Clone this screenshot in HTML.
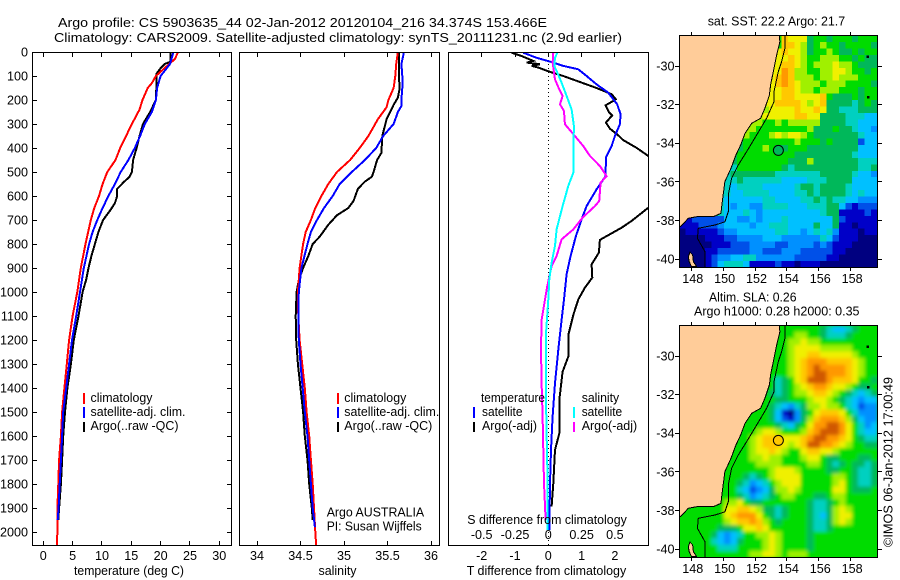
<!DOCTYPE html>
<html><head><meta charset="utf-8"><title>Argo profile</title>
<style>
html,body{margin:0;padding:0;background:#fff}
svg{display:block}
text{font-family:"Liberation Sans",sans-serif;font-size:12.6px;fill:#000}
.f{fill:none;stroke:#000;stroke-width:1;shape-rendering:crispEdges}
.b{shape-rendering:crispEdges}
</style></head>
<body>
<svg id="fig" xmlns="http://www.w3.org/2000/svg" width="900" height="580" viewBox="0 0 900 580">
<defs>
<clipPath id="c1"><rect x="32" y="52" width="200" height="494"/></clipPath>
<clipPath id="c2"><rect x="239" y="52" width="201" height="494"/></clipPath>
<clipPath id="c3"><rect x="448" y="52" width="201" height="494"/></clipPath>
<clipPath id="m1"><rect x="679" y="35" width="199" height="233"/></clipPath>
<clipPath id="m2"><rect x="679" y="325" width="199" height="233"/></clipPath>
<filter id="soft" filterUnits="userSpaceOnUse" x="660" y="310" width="240" height="260"><feGaussianBlur stdDeviation="1.8"/></filter>
</defs>
<rect width="900" height="580" fill="#fff"/>
<text x="58" y="27" textLength="489" lengthAdjust="spacingAndGlyphs">Argo profile: CS 5903635_44 02-Jan-2012 20120104_216 34.374S 153.466E</text>
<text x="54" y="42" textLength="568" lengthAdjust="spacingAndGlyphs">Climatology: CARS2009. Satellite-adjusted climatology: synTS_20111231.nc (2.9d earlier)</text>

<g id="maps"></g>
<g id="panels"></g>

<rect class="f" x="32.5" y="52.5" width="199" height="493"/>
<rect class="f" x="239.5" y="52.5" width="200" height="493"/>
<rect class="f" x="448.5" y="52.5" width="200" height="493"/>

<text x="74" y="575" textLength="110" lengthAdjust="spacingAndGlyphs">temperature (deg C)</text>
<text x="318.5" y="575" textLength="38" lengthAdjust="spacingAndGlyphs">salinity</text>
<text x="466.7" y="575" textLength="159.5" lengthAdjust="spacingAndGlyphs">T difference from climatology</text>
<text x="467.3" y="524" textLength="159.5" lengthAdjust="spacingAndGlyphs">S difference from climatology</text>

<g>
<rect class="b" x="83" y="393" width="2" height="11" fill="#f00"/>
<rect class="b" x="83" y="407" width="2" height="11" fill="#00f"/>
<rect class="b" x="83" y="422" width="2" height="10" fill="#000"/>
<text x="90.5" y="402" textLength="62" lengthAdjust="spacingAndGlyphs">climatology</text>
<text x="90.5" y="416" textLength="95" lengthAdjust="spacingAndGlyphs">satellite-adj. clim.</text>
<text x="90.5" y="430" textLength="88" lengthAdjust="spacingAndGlyphs">Argo(..raw -QC)</text>
</g>
<g>
<rect class="b" x="337" y="393" width="2" height="11" fill="#f00"/>
<rect class="b" x="337" y="407" width="2" height="11" fill="#00f"/>
<rect class="b" x="337" y="422" width="2" height="10" fill="#000"/>
<text x="344.3" y="402" textLength="62" lengthAdjust="spacingAndGlyphs">climatology</text>
<text x="344.3" y="416" textLength="95" lengthAdjust="spacingAndGlyphs">satellite-adj. clim.</text>
<text x="344.3" y="430" textLength="88" lengthAdjust="spacingAndGlyphs">Argo(..raw -QC)</text>
<text x="326.7" y="516.5" textLength="97.5" lengthAdjust="spacingAndGlyphs">Argo AUSTRALIA</text>
<text x="326.7" y="530.5" textLength="95" lengthAdjust="spacingAndGlyphs">PI: Susan Wijffels</text>
</g>
<g>
<rect class="b" x="473" y="407" width="2" height="11" fill="#00f"/>
<rect class="b" x="473" y="422" width="2" height="10" fill="#000"/>
<rect class="b" x="573" y="407" width="2" height="11" fill="#0ff"/>
<rect class="b" x="573" y="422" width="2" height="10" fill="#f0f"/>
<text x="481" y="402" textLength="64" lengthAdjust="spacingAndGlyphs">temperature</text>
<text x="482" y="416" textLength="40.5" lengthAdjust="spacingAndGlyphs">satellite</text>
<text x="482" y="430" textLength="55" lengthAdjust="spacingAndGlyphs">Argo(-adj)</text>
<text x="581.7" y="402" textLength="37.5" lengthAdjust="spacingAndGlyphs">salinity</text>
<text x="581.7" y="416" textLength="40.5" lengthAdjust="spacingAndGlyphs">satellite</text>
<text x="581.7" y="430" textLength="55.5" lengthAdjust="spacingAndGlyphs">Argo(-adj)</text>
</g>

<text x="707.7" y="25.5" textLength="137.5" lengthAdjust="spacingAndGlyphs">sat. SST: 22.2 Argo: 21.7</text>
<text x="709" y="301.5" textLength="87.5" lengthAdjust="spacingAndGlyphs">Altim. SLA: 0.26</text>
<text x="694" y="315.5" textLength="165.5" lengthAdjust="spacingAndGlyphs">Argo h1000: 0.28 h2000: 0.35</text>
<text transform="translate(892.5,547) rotate(-90)" textLength="170" lengthAdjust="spacingAndGlyphs">©IMOS 06-Jan-2012 17:00:49</text>
</svg>

<script>
// ---------- axis tick values ----------
var depthTicks = [0,100,200,300,400,500,600,700,800,900,1000,1100,1200,1300,1400,1500,1600,1700,1800,1900,2000];
var tempTicks = [0,5,10,15,20,25,30];
var salTicks = ['34','34.5','35','35.5','36'];
var tDiffTicks = ['-2','-1','0','1','2'];
var sDiffTicks = ['-0.5','-0.25','0','0.25','0.5'];
var lonTicks = [148,150,152,154,156,158];
var latTicks = [-30,-32,-34,-36,-38,-40];

// ---------- temperature profiles ----------
var tClimDepth = [0,30,60,100,130,150,200,240,300,400,450,500,550,600,650,700,800,900,1000,1100,1200,1300,1400,1500,1600,1700,1800,1900,2000,2056];
var tClimValue = [23.0,22.4,21.0,19.2,18.5,17.8,16.9,16.4,15.1,13.1,12.3,10.9,10.1,9.5,8.7,8.1,7.2,6.4,5.8,5.0,4.4,4.0,3.6,3.2,3.0,2.7,2.55,2.4,2.4,2.3];
var tSatDepth = [0,50,100,150,200,250,300,350,400,450,500,550,600,650,700,750,800,900,1000,1100,1200,1300,1400,1500,1600,1700,1800,1900,1950];
var tSatValue = [22.2,21.6,20.0,19.4,19.2,18.5,17.3,16.5,15.6,14.5,13.2,12.2,11.1,10.1,9.2,8.4,7.8,6.9,6.25,5.6,4.9,4.4,3.9,3.4,3.2,3.0,2.8,2.6,2.45];
var tArgoDepth = [0,40,50,70,90,130,200,250,300,350,400,450,500,520,540,570,600,630,660,700,750,800,850,900,950,1000,1100,1200,1300,1400,1500,1600,1700,1800,1900,1950];
var tArgoValue = [21.7,21.7,20.7,19.9,19.3,19.3,19.2,18.2,17.0,16.4,15.9,15.3,15.1,14.7,13.8,12.6,12.6,12.2,11.4,10.2,9.4,8.8,8.2,7.7,7.3,6.7,6.0,5.2,4.7,4.1,3.7,3.4,3.2,3.0,2.7,2.55];

// ---------- salinity profiles ----------
var sClimDepth = [0,50,100,150,200,230,280,350,400,450,500,550,600,650,700,750,800,900,1000,1100,1200,1300,1400,1500,1600,1700,1800,1900,2000,2056];
var sClimValue = [35.62,35.6,35.59,35.57,35.51,35.49,35.39,35.28,35.18,35.07,34.92,34.82,34.74,34.67,34.62,34.56,34.53,34.49,34.47,34.475,34.49,34.52,34.55,34.57,34.6,34.62,34.64,34.655,34.67,34.68];
var sSatDepth = [0,50,100,150,200,225,250,300,350,400,450,500,550,600,650,700,750,800,900,1000,1100,1200,1300,1400,1500,1600,1700,1800,1900,1980];
var sSatValue = [35.69,35.66,35.67,35.67,35.66,35.66,35.62,35.57,35.45,35.37,35.24,35.09,34.95,34.87,34.77,34.69,34.62,34.58,34.51,34.48,34.475,34.48,34.5,34.525,34.55,34.58,34.6,34.62,34.64,34.665];
var sArgoDepth = [0,100,150,190,220,280,350,420,450,500,520,540,570,620,650,680,720,770,800,850,900,950,1000,1100,1200,1300,1400,1500,1600,1700,1800,1900,1950];
var sArgoValue = [35.63,35.63,35.64,35.62,35.57,35.49,35.44,35.43,35.38,35.34,35.32,35.24,35.16,35.11,35.05,34.92,34.82,34.72,34.64,34.59,34.53,34.48,34.455,34.445,34.45,34.47,34.5,34.53,34.55,34.58,34.6,34.63,34.64];

// ---------- difference profiles ----------
var dtArgoDepth = [3,17,37,44,51,58,65,83,100,120,150,176,197,208,222,250,264,294,319,347,367,399,433,500,580,649,704,732,783,836,885,940,982,1031,1096,1179,1269,1332,1450,1589,1658,1797,1894];
var dtArgoValue = [-1.1,-0.8,-0.45,-0.65,-0.25,-0.5,-0.3,0.05,0.45,0.85,1.45,1.9,2.03,1.9,1.72,1.82,1.92,1.73,1.85,2.1,2.25,2.65,3.0,3.9,3.7,3.0,2.5,2.2,1.55,1.52,1.3,1.32,1.1,0.9,0.75,0.6,0.6,0.43,0.33,0.33,0.2,0.15,0.1];
var dtSatDepth = [3,24,40,58,72,100,135,169,218,260,301,350,392,440,517,572,642,697,767,850,926,1031,1116,1241,1380,1519,1658,1797,1991];
var dtSatValue = [-0.75,-0.35,0.05,0.45,0.9,1.15,1.45,1.8,2.07,2.17,2.15,2.0,1.9,1.73,1.72,1.45,1.15,1.0,0.83,0.67,0.55,0.47,0.4,0.3,0.2,0.13,0.08,0.05,0.03];
var dsSatDepth = [3,24,58,86,128,183,239,308,433,503,558,642,739,808,878,947,1031,1172,1311,1450,1589,1728,1866,1991];
var dsSatValue = [0.0675,0.05,0.045,0.0675,0.1,0.1375,0.175,0.1925,0.1875,0.1875,0.15,0.1075,0.0625,0.05,0.025,0.0075,0,-0.0175,-0.0175,-0.0175,-0.0125,-0.0075,-0.0075,-0.005];
var dsArgoDepth = [3,44,114,156,183,218,246,301,350,392,433,475,517,544,621,642,690,739,781,850,892,975,1031,1116,1241,1380,1519,1658,1797,1950];
var dsArgoValue = [0.0375,0.0325,0.05,0.0825,0.1075,0.0875,0.1175,0.125,0.2,0.2625,0.3125,0.3875,0.4375,0.3925,0.3825,0.35,0.2575,0.1875,0.1,0.0625,0.025,-0.0075,-0.025,-0.05,-0.055,-0.05,-0.0425,-0.0375,-0.0325,-0.02];

// ---------- map fields: one colour-level code per cell, right aligned (west of the string is land) ----------
var levelColors = ['#000080','#0000c8','#0050e8','#0090ff','#00c0ff','#00d0c0','#00b85a','#00dc00','#a0f000','#f0f000','#ffc800','#ff9800','#d05800'];
var sstRows = [
"a99967767776777","aa9867877677776","9a99867787667677","99a9877888776766","99aa9878889887666","99ba8877889987767",
"9aba8887889888777","99aba9888788877776","999aa9887888777677","999aa9999a76667677","99aaaa989a66665676","889999a99a966555666",
"8899999aa99666655544","88778788888666655444","887777777786667665443","7877789899876666666544","6777777778777676666244","6777876677766666666444",
"67777777776666666665444","67777777766686666666555","557777777656666666666556","566666665555555666665443","5556555555444455566664444","5545555444445665666654444",
"5544555544445565666654544","5444444554444556565544333","65434433555544455566421222","5444543444444444566111121","1122222443343444544444446211111","1112223444434455544446446110111",
"0111112334444445544345453111011","0000111223333444333333542111000","0000011122233332233332321110000","0000112222233222333222221100000","0000123344553333332222211000000","0000124555411112110111000000000"];
var slaRows = [
"654456777","8877655567777","88988777777777","89999888887777","899aa999998777","89abbbaaaa9877",
"89abcbbbba9877","89abccbbba9877","5679acccbaaa9776","56789abba9987667","6567889aa98765456","76677789987654344",
"765435688988754233","764103679aaa975333","76421368abbba86433","777654679bbccb97534","789987778abcccb97544","789aaa999abccbba97655",
"7789aaa989accbba987766","77899a98779aa998777777","77788988777899766777667","77778888777788765676656","777777789998777766776556","777656789999777778876556",
"776534578999777778976556","7775423468898777779976667","7776534567887776678877777","889766777777765567877777","99aa98665677765568987777","9abbb9765677765468997777",
"789aaba876777765568987777","77666799a977777765567777777","64345778898777767777777777","54346777898777767777777777","75557777898777767777777777","788998788877777777777"];

// ---------- map geography ----------
var coastLon = [153.52,153.56,153.36,153.19,152.98,152.9,152.62,152.35,151.79,151.37,151.1,150.8,150.49,150.11,149.97,149.86,149.38,148.33,147.81,147.33];
var coastLat = [-28.43,-28.74,-29.43,-30.12,-30.98,-31.5,-32.19,-32.71,-32.97,-33.49,-34.09,-34.61,-35.3,-35.99,-36.86,-37.63,-37.81,-37.81,-37.89,-38.32];
var isobathLon = [153.88,153.88,153.67,153.46,153.19,153.19,152.73,152.1,151.47,150.95,150.53,150.32,150.32,150.11,149.49,148.44,148.38,148.86,148.86];
var isobathLat = [-28.43,-29.08,-29.78,-30.29,-31.33,-31.85,-32.71,-33.58,-34.44,-35.13,-35.82,-36.68,-37.55,-38.07,-38.24,-38.41,-38.93,-39.62,-40.43];
var islandLon = [147.81,147.92,148.08,148.13,148.33,148.02,147.87];
var islandLat = [-39.88,-39.65,-39.79,-40.14,-40.4,-40.4,-40.14];
var speckLon = [159.05,159.1];
var speckLat = [-29.52,-31.6];
var argoLon = 153.466;
var argoLat = -34.374;

// ---------- axis functions ----------
function depthY(d){return 52+d*0.24;}
function tempX(t){return 43.3+t*5.867;}
function salX(s){return 257+(s-34)*87;}
function dtX(t){return 548.3+t*33.3;}
function dsX(s){return 548.3+s*133.2;}
function lonX(l){return 691.3+(l-148)*15.93;}
function latY(l,base){return base+(-30-l)*19.3;}

var NS='http://www.w3.org/2000/svg';
var panels=document.getElementById('panels'), maps=document.getElementById('maps');
function mk(tag,attrs,parent){
  var e=document.createElementNS(NS,tag);
  for(var k in attrs){e.setAttribute(k,attrs[k]);}
  (parent||panels).appendChild(e);
  return e;
}
function drawProfile(depths,values,xf,color,clip){
  var p=[];
  for(var i=0;i<depths.length;i++){p.push(xf(values[i]).toFixed(1)+','+depthY(depths[i]).toFixed(1));}
  return mk('polyline',{points:p.join(' '),fill:'none',stroke:color,'stroke-width':2,'clip-path':'url(#'+clip+')','shape-rendering':'crispEdges'});
}
function vTick(x,y0,y1){
  var l=mk('line',{x1:x,x2:x,y1:y0,y2:y1,stroke:'#000','stroke-width':1,'shape-rendering':'crispEdges'});
  
  
}
function hTick(y,x0,x1,parent){
  var l=mk('line',{x1:x0,x2:x1,y1:y,y2:y,stroke:'#000','stroke-width':1,'shape-rendering':'crispEdges'},parent);
  
  
}
function label(x,y,str,anchor,parent){
  var t=mk('text',{x:x,y:y,'text-anchor':anchor},parent);
  t.textContent=str;
  
  
}
function snap(v){return Math.round(v-0.5)+0.5;}

// ---------- profile axes ----------
depthTicks.forEach(function(d){
  var y=snap(depthY(d));
  hTick(y,32,37);hTick(y,227,232);
  label(28,depthY(d)+4.5,String(d),'end');
});
tempTicks.forEach(function(t){
  var x=snap(tempX(t));
  vTick(x,52,57);vTick(x,541,546);
  label(tempX(t),560,String(t),'middle');
});
salTicks.forEach(function(s){
  var x=snap(salX(parseFloat(s)));
  vTick(x,52,57);vTick(x,541,546);
  label(salX(parseFloat(s)),560,s,'middle');
});
tDiffTicks.forEach(function(s){
  var x=snap(dtX(parseFloat(s)));
  vTick(x,52,57);
  label(dtX(parseFloat(s)),560,s,'middle');
});
sDiffTicks.forEach(function(s){
  label(dsX(parseFloat(s)),539,s,'middle');
});

// ---------- temperature panel ----------
var l1=drawProfile(tArgoDepth,tArgoValue,tempX,'#000','c1');


var l2=drawProfile(tClimDepth,tClimValue,tempX,'#f00','c1');


var l3=drawProfile(tSatDepth,tSatValue,tempX,'#00f','c1');



// ---------- salinity panel ----------
var l4=drawProfile(sArgoDepth,sArgoValue,salX,'#000','c2');


var l5=drawProfile(sClimDepth,sClimValue,salX,'#f00','c2');


var l6=drawProfile(sSatDepth,sSatValue,salX,'#00f','c2');



// ---------- difference panel ----------
var zero=mk('line',{x1:dtX(0),x2:dtX(0),y1:depthY(0),y2:depthY(2056),stroke:'#000','stroke-width':1,'stroke-dasharray':'1 3','shape-rendering':'crispEdges'});


var l7=drawProfile(dtArgoDepth,dtArgoValue,dtX,'#000','c3');


var l8=drawProfile(dtSatDepth,dtSatValue,dtX,'#00f','c3');


var l9=drawProfile(dsArgoDepth,dsArgoValue,dsX,'#f0f','c3');


var l10=drawProfile(dsSatDepth,dsSatValue,dsX,'#0ff','c3');



// ---------- maps ----------
var cellLon0=147.25, cellDLon=0.401, cellLat0=-28.43, cellDLat=1/3;
function drawMap(rows,base,clip,dotColor,soft){
  var g=mk('g',{'clip-path':'url(#'+clip+')'},maps);
  var backing=mk('rect',{x:660,y:base-45,width:240,height:260,fill:'#00dc00'},g);
  
  
  var cg=mk('g',soft?{filter:'url(#soft)'}:{},g);
  rows.forEach(function(row,r){
    var full=row.padStart(31,'7');
    for(var c=0;c<31;c++){
      var x0=lonX(cellLon0+c*cellDLon), x1=lonX(cellLon0+(c+1)*cellDLon);
      var y0=latY(cellLat0-r*cellDLat,base), y1=latY(cellLat0-(r+1)*cellDLat,base);
      var cell=mk('rect',{x:x0.toFixed(1),y:y0.toFixed(1),width:(x1-x0+0.6).toFixed(1),height:(y1-y0+0.6).toFixed(1),fill:levelColors[parseInt(full[c],16)],'shape-rendering':'crispEdges'},cg);
      
      
    }
  });
  var pts=[lonX(147)+','+latY(-38.32,base),lonX(147)+','+latY(-28.2,base),lonX(coastLon[0])+','+latY(-28.2,base)];
  for(var i=0;i<coastLon.length;i++){pts.push(lonX(coastLon[i]).toFixed(1)+','+latY(coastLat[i],base).toFixed(1));}
  var land=mk('polygon',{points:pts.join(' '),fill:'#ffcc99',stroke:'#000','stroke-width':1,'shape-rendering':'crispEdges'},g);
  
  
  var ip=[];
  for(i=0;i<islandLon.length;i++){ip.push(lonX(islandLon[i]).toFixed(1)+','+latY(islandLat[i],base).toFixed(1));}
  var isl=mk('polygon',{points:ip.join(' '),fill:'#ffcc99',stroke:'#000','stroke-width':1,'shape-rendering':'crispEdges'},g);
  
  
  var bp=[];
  for(i=0;i<isobathLon.length;i++){bp.push(lonX(isobathLon[i]).toFixed(1)+','+latY(isobathLat[i],base).toFixed(1));}
  var bath=mk('polyline',{points:bp.join(' '),fill:'none',stroke:'#000','stroke-width':1,'shape-rendering':'crispEdges'},g);
  
  
  for(i=0;i<speckLon.length;i++){
    var sp=mk('rect',{x:lonX(speckLon[i])-1,y:latY(speckLat[i],base)-1,width:2.5,height:2.5,fill:'#000','shape-rendering':'crispEdges'},g);
    
    
  }
  var dot=mk('circle',{cx:lonX(argoLon),cy:latY(argoLat,base),r:5,fill:dotColor,stroke:'#000','stroke-width':1},maps);
  
  
  var top=latY(-28.43,base), bot=latY(-40.43,base);
  var fr=mk('rect',{x:679.5,y:Math.round(top)-0.5,width:198,height:232,fill:'none',stroke:'#000','stroke-width':1,'shape-rendering':'crispEdges'},maps);
  
  
  lonTicks.forEach(function(l){
    var x=snap(lonX(l));
    var t1=mk('line',{x1:x,x2:x,y1:Math.round(top)-4,y2:Math.round(top),stroke:'#000','stroke-width':1,'shape-rendering':'crispEdges'},maps);
    
    
    var t2=mk('line',{x1:x,x2:x,y1:Math.round(bot),y2:Math.round(bot)+4,stroke:'#000','stroke-width':1,'shape-rendering':'crispEdges'},maps);
    
    
    label(lonX(l)+1.5,base+217,String(l),'middle',maps);
  });
  latTicks.forEach(function(l){
    var y=snap(latY(l,base));
    hTick(y,675,679,maps);
    hTick(y,878,882,maps);
    label(674.5,latY(l,base)+4.5,String(l),'end',maps);
  });
}
drawMap(sstRows,66,'m1','#00b85a',false);
drawMap(slaRows,356,'m2','#ffc800',true);
</script>
</body></html>
